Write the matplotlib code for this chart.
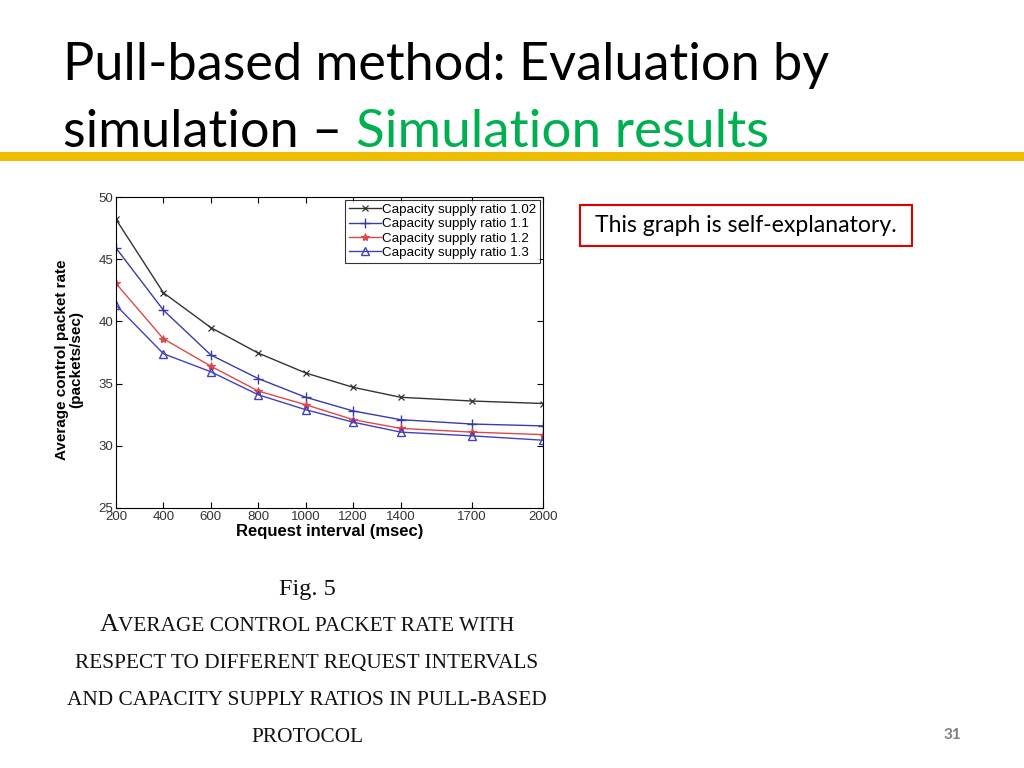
import matplotlib
matplotlib.use('Agg')
import matplotlib.pyplot as plt
from matplotlib.patches import Rectangle

# request interval (msec)
intervals = [200, 400, 600, 800, 1000, 1200, 1400, 1700, 2000]
x_ticks = [200, 400, 600, 800, 1000, 1200, 1400, 1700, 2000]
y_ticks = [25, 30, 35, 40, 45, 50]

# average control packet rate (packets/sec), one list per capacity supply ratio
rate_102 = [48.2, 42.3, 39.5, 37.45, 35.85, 34.7, 33.9, 33.6, 33.4]
rate_11 = [45.9, 40.9, 37.3, 35.4, 33.9, 32.8, 32.1, 31.75, 31.6]
rate_12 = [43.05, 38.6, 36.4, 34.4, 33.3, 32.1, 31.4, 31.1, 30.9]
rate_13 = [41.3, 37.4, 35.95, 34.1, 32.9, 31.9, 31.1, 30.8, 30.45]

labels = ['Capacity supply ratio 1.02', 'Capacity supply ratio 1.1',
          'Capacity supply ratio 1.2', 'Capacity supply ratio 1.3']

caption = ['AVERAGE CONTROL PACKET RATE WITH',
           'RESPECT TO DIFFERENT REQUEST INTERVALS',
           'AND CAPACITY SUPPLY RATIOS IN PULL-BASED',
           'PROTOCOL']

W, H = 1024, 768
fig = plt.figure(figsize=(10.24, 7.68), dpi=100)
fig.patch.set_facecolor('white')

def fx(px):
    return px / W

def fy(py):
    return 1 - py / H

slide_font = ['Lato', 'DejaVu Sans']
arial = ['Liberation Sans', 'DejaVu Sans']
serif = ['Liberation Serif', 'DejaVu Serif']

# title
fig.text(fx(63), fy(80), 'Pull-based method: Evaluation by', fontsize=37.6,
         family=slide_font, color='black', va='baseline', ha='left')
t1 = fig.text(fx(63), fy(147), 'simulation \u2013 ', fontsize=37.6,
              family=slide_font, color='black', va='baseline', ha='left')
t2 = fig.text(0, fy(147), 'Simulation results', fontsize=38.2,
              family=slide_font, color='#00B050', va='baseline', ha='left')
fig.canvas.draw()
renderer = fig.canvas.get_renderer()
t2.set_x(t1.get_window_extent(renderer).x1 / W)

# yellow rule
fig.patches.append(Rectangle((0, fy(161)), 1, 9 / H, transform=fig.transFigure,
                             facecolor='#EEBD00', edgecolor='none'))

# chart
ax = fig.add_axes([fx(116), fy(508), fx(543) - fx(116), fy(197) - fy(508)])
ax.plot(intervals, rate_102, color='#333333', lw=1.0, marker='x', ms=4,
        mew=0.9, label=labels[0])
ax.plot(intervals, rate_11, color='#3A3AA8', lw=1.0, marker='+', ms=7,
        mew=1.0, label=labels[1])
ax.plot(intervals, rate_12, color='#E04848', lw=1.0, marker='*', ms=6,
        mew=0.8, label=labels[2])
ax.plot(intervals, rate_13, color='#4040C0', lw=1.0, marker='^', ms=6,
        mew=1.0, mfc='none', label=labels[3])

ax.set_xlim(200, 2000)
ax.set_ylim(25, 50)
ax.set_xticks(x_ticks)
ax.set_yticks(y_ticks)
ax.tick_params(direction='in', length=4, top=True, right=True,
               labelsize=9.5, labelcolor='#333333', pad=2)
for lab in ax.get_xticklabels() + ax.get_yticklabels():
    lab.set_family(arial)
for s in ax.spines.values():
    s.set_linewidth(0.8)
ax.set_xlabel('Request interval (msec)', fontsize=12, fontweight='bold',
              family=arial, labelpad=1)
ax.set_ylabel('Average control packet rate\n(packets/sec)', fontsize=11,
              fontweight='bold', family=arial, linespacing=1.05)
ax.yaxis.set_label_coords(-0.077, 0.478)
leg = ax.legend(loc='upper right', frameon=True, fancybox=False,
                edgecolor='black', borderpad=0.3, labelspacing=0.15,
                handlelength=2.4, handletextpad=0.1, borderaxespad=0.2,
                prop={'family': arial, 'size': 9.6})
leg.get_frame().set_linewidth(0.8)

# annotation box
fig.patches.append(Rectangle((fx(580), fy(246)), 332 / W, 41 / H,
                             transform=fig.transFigure, fill=False,
                             edgecolor='#E00000', linewidth=1.5))
fig.text(fx(746), fy(226), 'This graph is self-explanatory.', fontsize=16.6,
         family=slide_font, ha='center', va='center', color='black')

# figure caption
fig.text(fx(307), fy(589), 'Fig. 5', fontsize=17.5, family=serif,
         ha='center', va='center', color='#111111')
for i, line in enumerate(caption):
    base = fy(631 + 37 * i)
    if i == 0:
        # small caps look: larger initial letter
        a = fig.text(0, base, line[0], fontsize=19, family=serif,
                     ha='left', va='baseline', color='#111111')
        rest = fig.text(0, base, line[1:], fontsize=15.3, family=serif,
                        ha='left', va='baseline', color='#111111')
        wa = a.get_window_extent(renderer).width
        wr = rest.get_window_extent(renderer).width
        x0 = 307 - (wa + wr) / 2
        a.set_x(fx(x0))
        rest.set_x(fx(x0 + wa))
    else:
        fig.text(fx(307), base, line, fontsize=15.3, family=serif,
                 ha='center', va='baseline', color='#111111')

# page number
fig.text(fx(952), fy(735), '31', fontsize=11, fontweight='bold',
         family=slide_font, ha='center', va='center', color='#7F7F7F')

fig.savefig('out.png', dpi=100)
